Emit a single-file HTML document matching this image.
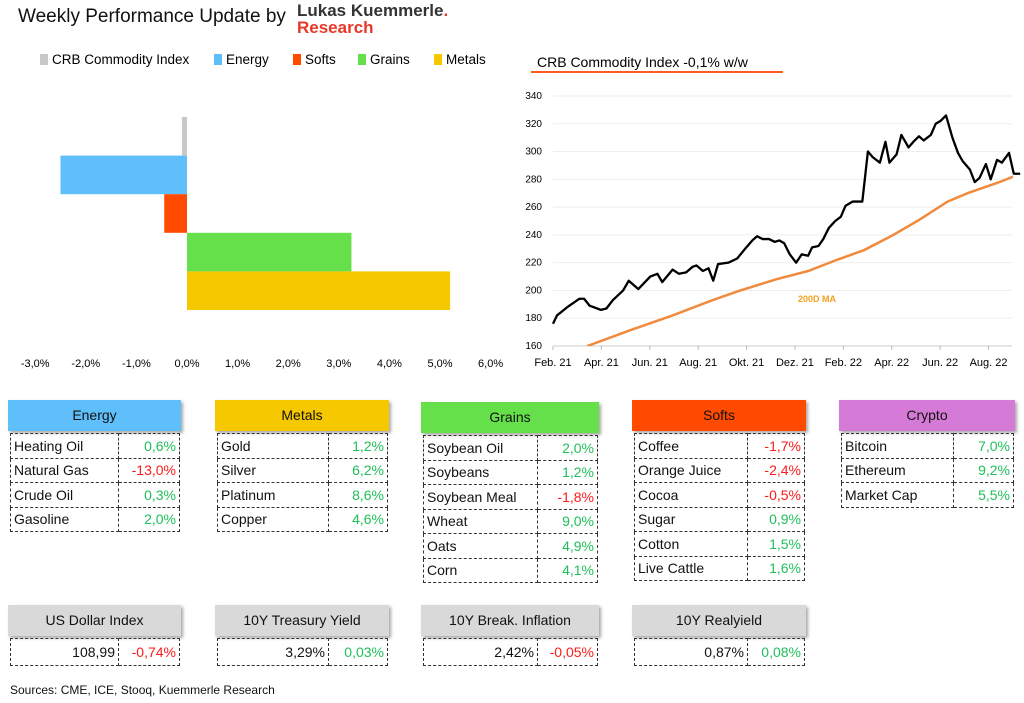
<!DOCTYPE html>
<html><head><meta charset="utf-8">
<style>
body{margin:0;width:1024px;height:703px;background:#fff;font-family:"Liberation Sans",sans-serif;position:relative;overflow:hidden;color:#111}
.abs{position:absolute}
.hdr{position:absolute;height:31px;line-height:31px;text-align:center;font-size:14px;box-shadow:2px 2px 3px rgba(0,0,0,.35)}
.tbl{position:absolute;border-collapse:collapse;font-size:14px}
.tbl td{border:1px dashed #333;height:23.5px;padding:0 3px;white-space:nowrap}
.tbl td.v{text-align:right}
.g{color:#1fbf5a}.r{color:#ff1a1a}
</style></head><body>
<div class="abs" style="left:18px;top:6px;font-size:19px">Weekly Performance Update by</div>
<div class="abs" style="left:297px;top:2px;font-weight:bold;font-size:17px;line-height:17px;color:#333">Lukas Kuemmerle<span style="color:#e8382a">.</span><br><span style="color:#e8382a">Research</span></div>

<svg class="abs" style="left:0;top:40px" width="520" height="340" id="bar"></svg>
<svg class="abs" style="left:520px;top:40px" width="504" height="340" id="line"></svg>

<div id="tables"></div>
<div class="abs" style="left:10px;top:683px;font-size:12px">Sources: CME, ICE, Stooq, Kuemmerle Research</div>

<script>
const barCats=["CRB Commodity Index","Energy","Softs","Grains","Metals"];
const barVals=[-0.1,-2.5,-0.45,3.25,5.2];
const barColors=["#c8c8c8","#5fbffa","#ff4a00","#66e04a","#f5c800"];
const barTicks=[-3,-2,-1,0,1,2,3,4,5,6];

const lineDays=[0,5,18,33,39,46,60,67,75,88,95,107,122,131,137,150,158,167,175,180,188,195,201,207,220,231,241,250,256,263,271,278,284,290,297,305,312,320,325,333,339,346,354,361,367,376,388,395,401,410,417,422,431,437,446,452,459,465,474,480,486,493,501,508,514,523,529,535,543,549,557,563,572,578,586];
const lineVals=[176,182,188,194,194,189,186,187,193,200,207,201,210,212,206,215,212,213,217,218,214,216,207,219,220,223,230,236,239,237,237,235,236,234,226,220,226,225,231,232,237,245,250,253,261,264,264,300,296,292,307,292,298,312,303,307,311,308,312,320,322,326,310,299,293,287,278,281,291,280,294,292,299,284,284];
const maDays=[43,100,150,200,235,280,320,356,390,427,460,495,520,560,586];
const maVals=[160,172,182,193,200,208,214,222,229,240,251,264,270,278,284];
const monthLabels=["Feb. 21","Apr. 21","Jun. 21","Aug. 21","Okt. 21","Dez. 21","Feb. 22","Apr. 22","Jun. 22","Aug. 22"];
const yTicks=[160,180,200,220,240,260,280,300,320,340];

const NS="http://www.w3.org/2000/svg";
function mk(p,t,a){const e=document.createElementNS(NS,t);for(const k in a)e.setAttribute(k,a[k]);p.appendChild(e);return e;}

// bar chart
const bar=document.getElementById('bar');
const bx=v=>187+v*50.6;
const rowH=38.6, y0=77;
barTicks.forEach(t=>{const e=mk(bar,'text',{x:bx(t),y:327,'font-size':11,'text-anchor':'middle'});e.textContent=t.toFixed(1).replace('.',',')+'%';

});
barVals.forEach((v,i)=>{const r=mk(bar,'rect',{x:Math.min(bx(0),bx(v)),y:y0+i*rowH,width:Math.abs(bx(v)-bx(0)),height:rowH,fill:barColors[i]});

});
const lgX=[40,214,293,358,434];
barCats.forEach((c,i)=>{const g=mk(bar,'g',{});


mk(g,'rect',{x:lgX[i],y:14,width:8,height:11,fill:barColors[i]});
const t=mk(g,'text',{x:lgX[i]+12,y:24,'font-size':13.5});t.textContent=c;});

// line chart
const ln=document.getElementById('line');
const lx=d=>33+d*(460/577); // Feb21 day0 ->553 page, Aug22 day546 ->980
const ly=v=>306-(v-160)*(250/180);
const tt=mk(ln,'text',{x:17,y:27,'font-size':14});tt.textContent="CRB Commodity Index -0,1% w/w";


mk(ln,'line',{x1:11,x2:263,y1:32,y2:32,stroke:'#ff5a1f','stroke-width':2});
yTicks.forEach(v=>{mk(ln,'line',{x1:33,x2:492,y1:ly(v),y2:ly(v),stroke:'#eee'});
const e=mk(ln,'text',{x:22,y:ly(v)+3,'font-size':10,'text-anchor':'end'});e.textContent=v;

});
mk(ln,'line',{x1:33,x2:492,y1:ly(160),y2:ly(160),stroke:'#ccc'});
monthLabels.forEach((m,i)=>{const d=i*2*30.35;mk(ln,'line',{x1:lx(d),x2:lx(d),y1:ly(160),y2:ly(160)+4,stroke:'#bbb'});
const e=mk(ln,'text',{x:lx(d),y:326,'font-size':11,'text-anchor':'middle'});e.textContent=m;

});
const clip=mk(mk(ln,'defs',{}),'clipPath',{id:'cp'});mk(clip,'rect',{x:33,y:40,width:460,height:ly(160)-40});
const ma=mk(ln,'polyline',{points:maDays.map((d,i)=>lx(d)+','+ly(maVals[i])).join(' '),fill:'none',stroke:'#f08a3c','stroke-width':2.5,'clip-path':'url(#cp)'});


const pl=mk(ln,'polyline',{points:lineDays.map((d,i)=>lx(d)+','+ly(lineVals[i])).join(' '),fill:'none',stroke:'#000','stroke-width':2.3,'stroke-linejoin':'round'});


const ml=mk(ln,'text',{x:278,y:262,'font-size':9,'font-weight':'bold',fill:'#f5a020'});ml.textContent="200D MA";



// tables
const tables=[
 {n:"Energy",x:8,w:173,y:400,c:"#5fbffa",d:118,rows:[["Heating Oil","0,6%"],["Natural Gas","-13,0%"],["Crude Oil","0,3%"],["Gasoline","2,0%"]]},
 {n:"Metals",x:215,w:174,y:400,c:"#f5c800",d:328,rows:[["Gold","1,2%"],["Silver","6,2%"],["Platinum","8,6%"],["Copper","4,6%"]]},
 {n:"Grains",x:421,w:178,y:402,c:"#66e04a",d:537,rows:[["Soybean Oil","2,0%"],["Soybeans","1,2%"],["Soybean Meal","-1,8%"],["Wheat","9,0%"],["Oats","4,9%"],["Corn","4,1%"]]},
 {n:"Softs",x:632,w:174,y:400,c:"#ff4a00",d:747,rows:[["Coffee","-1,7%"],["Orange Juice","-2,4%"],["Cocoa","-0,5%"],["Sugar","0,9%"],["Cotton","1,5%"],["Live Cattle","1,6%"]]},
 {n:"Crypto",x:839,w:176,y:400,c:"#d67ad8",d:953,rows:[["Bitcoin","7,0%"],["Ethereum","9,2%"],["Market Cap","5,5%"]]},
 {n:"US Dollar Index",x:8,w:173,y:605,c:"#d9d9d9",d:118,rows:[["108,99","-0,74%"]],num:true},
 {n:"10Y Treasury Yield",x:215,w:174,y:605,c:"#d9d9d9",d:328,rows:[["3,29%","0,03%"]],num:true},
 {n:"10Y Break. Inflation",x:421,w:178,y:605,c:"#d9d9d9",d:537,rows:[["2,42%","-0,05%"]],num:true},
 {n:"10Y Realyield",x:632,w:174,y:605,c:"#d9d9d9",d:747,rows:[["0,87%","0,08%"]],num:true}
];
const T=document.getElementById('tables');
tables.forEach(t=>{
 const slug=t.n.toLowerCase().replace(/[^a-z0-9]+/g,'-');
 const h=document.createElement('div');h.className='hdr';
 h.style.cssText=`left:${t.x}px;top:${t.y}px;width:${t.w}px;background:${t.c}`;
 h.textContent=t.n;
 
 
 T.appendChild(h);
 const tb=document.createElement('table');tb.className='tbl';
 const tx=t.x+2, tw=t.w-3;
 tb.style.cssText=`left:${tx}px;top:${t.y+33}px;width:${tw}px`;
 
 
 t.rows.forEach(r=>{const tr=document.createElement('tr');
  const a=document.createElement('td');a.textContent=r[0];a.style.width=(t.d-tx-7)+'px';if(t.num)a.className='v';
  const b=document.createElement('td');b.className='v '+(r[1].startsWith('-')?'r':'g');b.textContent=r[1];
  if(t.num)tr.style.height='27px';
  tr.appendChild(a);tr.appendChild(b);tb.appendChild(tr);});
 T.appendChild(tb);
});
</script>
</body></html>
